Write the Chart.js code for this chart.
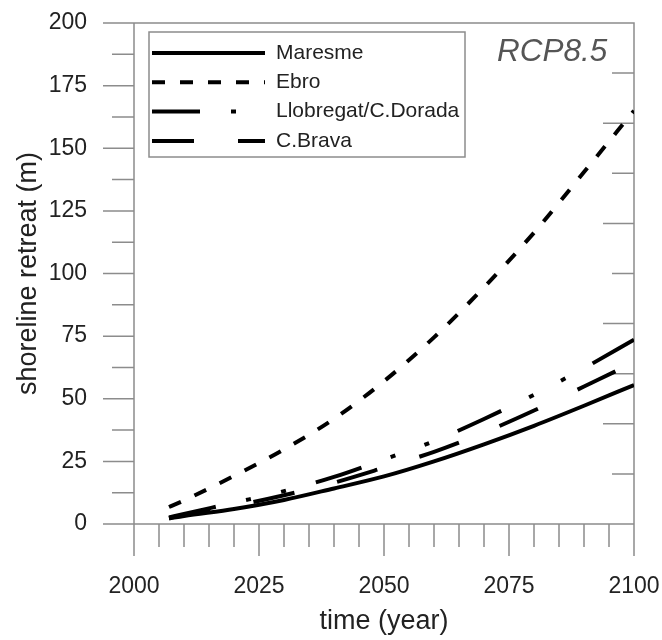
<!DOCTYPE html>
<html>
<head>
<meta charset="utf-8">
<script src="https://cdn.jsdelivr.net/npm/chart.js@4/dist/chart.umd.min.js"></script>
<style>
  html, body { margin: 0; padding: 0; background: #fff; }
</style>
</head>
<body>
<canvas id="retreat" width="662" height="640"></canvas>
<script>
// Shoreline retreat projections per coastal sector
const years     = [2007, 2010, 2020, 2030, 2040, 2050, 2060, 2070, 2080, 2090, 2100];
const maresme   = [2.2, 3.2, 6.0, 9.6, 14.2, 19.0, 25.0, 31.8, 39.2, 47.2, 55.5];
const ebro      = [6.8, 9.4, 19.2, 29.8, 42.0, 57.0, 74.5, 94.5, 116.3, 140.5, 165.0];
const llobregat = [2.6, 4.0, 8.5, 13.1, 18.8, 25.8, 33.1, 41.9, 51.6, 62.2, 73.6];
const brava     = [2.4, 3.5, 7.2, 11.5, 16.5, 22.5, 28.8, 36.5, 45.3, 54.9, 64.5];
const sectors   = ['Maresme', 'Ebro', 'Llobregat/C.Dorada', 'C.Brava'];
const scenario  = 'RCP8.5';

const FONT = '"Liberation Sans", Arial, Helvetica, sans-serif';
const axisColor = '#8c8c8c';
const textColor = '#222';

const toPoints = vals => vals.map((v, i) => ({ x: years[i], y: v }));

function series(label, vals, dash) {
  return {
    label,
    data: toPoints(vals),
    borderColor: '#000',
    borderWidth: 4,
    borderDash: dash,
    borderCapStyle: 'butt',
    pointRadius: 0,
    fill: false,
    cubicInterpolationMode: 'monotone'
  };
}

// keep the plot box fixed: no extra room for half labels at the ends
function noPad(s) {
  s.paddingLeft = s.paddingRight = s.paddingTop = s.paddingBottom = 0;
}

// box frame + major/minor tick marks (outside on left/bottom, inside on right)
const frame = {
  id: 'frame',
  beforeDatasetsDraw(chart) {
    const { ctx, chartArea: a, scales: { x, y, y2 } } = chart;
    ctx.save();
    ctx.strokeStyle = axisColor;
    ctx.lineWidth = 1.5;
    ctx.beginPath();
    ctx.rect(a.left, a.top, a.right - a.left, a.bottom - a.top);
    for (let v = 0; v <= 200; v += 12.5) {
      const py = y.getPixelForValue(v);
      const len = v % 25 === 0 ? 31 : 22;
      ctx.moveTo(a.left - len, py); ctx.lineTo(a.left, py);
    }
    for (let v = 2000; v <= 2100; v += 5) {
      const px = x.getPixelForValue(v);
      const len = v % 25 === 0 ? 32 : 23;
      ctx.moveTo(px, a.bottom); ctx.lineTo(px, a.bottom + len);
    }
    for (let v = 1; v < 10; v++) {
      const py = y2.getPixelForValue(v);
      const len = v % 2 === 0 ? 31 : 22;
      ctx.moveTo(a.right - len, py); ctx.lineTo(a.right, py);
    }
    ctx.stroke();
    ctx.restore();
  }
};

// legend box in the upper left corner and the scenario tag
const legendBox = {
  id: 'legendBox',
  afterDatasetsDraw(chart) {
    const { ctx, chartArea: a } = chart;
    const left = a.left + 15, top = a.top + 9, w = 316, h = 125;
    ctx.save();
    ctx.fillStyle = '#fff';
    ctx.fillRect(left, top, w, h);
    ctx.strokeStyle = axisColor;
    ctx.lineWidth = 1.5;
    ctx.strokeRect(left, top, w, h);

    ctx.font = '21px ' + FONT;
    ctx.textBaseline = 'middle';
    chart.data.datasets.forEach((ds, i) => {
      const ly = top + 21 + i * 29.3;
      ctx.strokeStyle = ds.borderColor;
      ctx.lineWidth = ds.borderWidth;
      ctx.lineCap = 'butt';
      ctx.setLineDash(ds.borderDash || []);
      ctx.beginPath();
      ctx.moveTo(left + 3, ly);
      ctx.lineTo(left + 116, ly);
      ctx.stroke();
      ctx.setLineDash([]);
      ctx.fillStyle = textColor;
      ctx.fillText(ds.label, left + 127, ly);
    });

    ctx.font = 'italic 31.5px ' + FONT;
    ctx.fillStyle = '#555';
    ctx.fillText(scenario, a.right - 137, a.top + 29);
    ctx.restore();
  }
};

new Chart(document.getElementById('retreat'), {
  type: 'line',
  data: {
    datasets: [
      series(sectors[0], maresme, []),
      series(sectors[1], ebro, [13, 15]),
      series(sectors[2], llobregat, [48, 31, 5, 31, 5, 31]),
      series(sectors[3], brava, [42, 44])
    ]
  },
  options: {
    responsive: false,
    animation: false,
    layout: { padding: { top: 23, right: 28, left: 0, bottom: 0 } },
    plugins: { legend: { display: false }, tooltip: { enabled: false } },
    scales: {
      x: {
        type: 'linear', min: 2000, max: 2100,
        grid: { display: false, drawTicks: false },
        border: { display: false },
        ticks: {
          stepSize: 25, padding: 49, maxRotation: 0, color: textColor,
          font: { size: 23, family: FONT },
          callback: v => String(v)
        },
        title: {
          display: true, text: 'time (year)', color: textColor,
          font: { size: 27, family: FONT }, padding: { top: 0, bottom: 2 }
        },
        afterFit: s => { s.height = 116; noPad(s); }
      },
      y: {
        min: 0, max: 200,
        grid: { display: false, drawTicks: false },
        border: { display: false },
        ticks: {
          stepSize: 25, padding: 47, color: textColor,
          font: { size: 23, family: FONT },
          callback: v => String(v)
        },
        title: {
          display: true, text: 'shoreline retreat (m)', color: textColor,
          font: { size: 27, family: FONT }, padding: { top: 12, bottom: 0 }
        },
        afterFit: s => { s.width = 134; noPad(s); }
      },
      y2: { position: 'right', min: 0, max: 10, display: false }
    }
  },
  plugins: [frame, legendBox]
});
</script>
</body>
</html>
